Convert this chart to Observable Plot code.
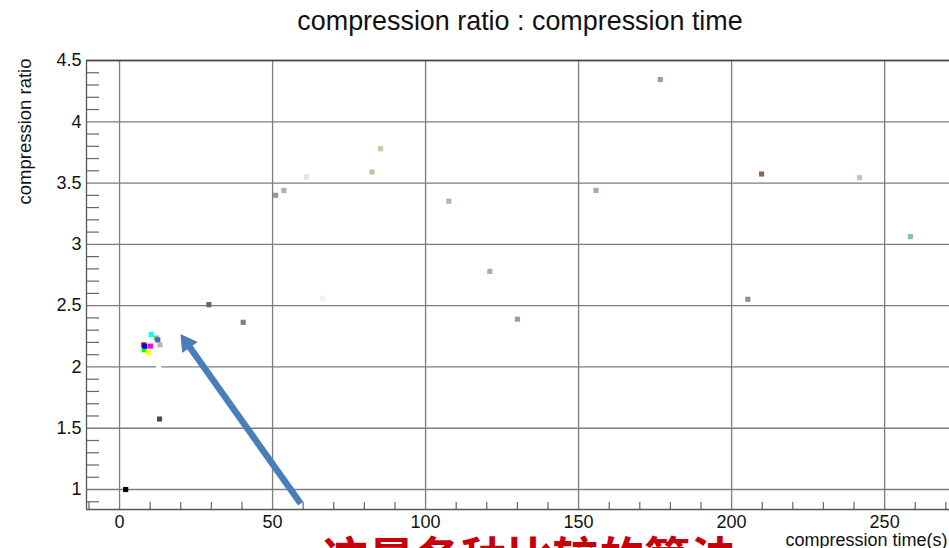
<!DOCTYPE html>
<html>
<head>
<meta charset="utf-8">
<script src="https://cdn.jsdelivr.net/npm/d3@7"></script>
<script src="https://cdn.jsdelivr.net/npm/@observablehq/plot@0.6"></script>
<style>
  html, body { margin: 0; padding: 0; background: #fff; overflow: hidden; }
</style>
</head>
<body>
<div id="chart"></div>
<script>
// ---- data ----
const times  = [2.0, 7.9, 8.05, 8.25, 9.4, 10.1, 10.35, 12.0, 12.5, 12.8, 13.2, 13.07, 29.2, 40.4, 51.0, 53.7, 61.1, 66.4, 82.5, 85.3, 107.6, 121.0, 130.0, 155.7, 176.7, 205.3, 209.8, 241.8, 258.4];
const ratios = [1.00, 2.18, 2.14, 2.17, 2.12, 2.17, 2.266, 2.236, 2.22, 2.00, 2.18, 1.575, 2.508, 2.364, 3.40, 3.44, 3.55, 2.56, 3.59, 3.78, 3.352, 2.78, 2.39, 3.44, 4.344, 2.552, 3.574, 3.544, 3.063];
const colors = ["#000000", "#ff0000", "#00ff00", "#0000ff", "#ffff00", "#ff00ff", "#00ffff", "#59d454", "#5954d9", "#ffffff", "#c0b6ac", "#4c4c4c", "#666666", "#7f7f7f", "#999999", "#b2b2b2", "#e3e3e3", "#f2f2f2", "#c4c0a0", "#ccc6aa", "#bab5a3", "#b5ab9a", "#aa9a8a", "#b7a39b", "#ad998c", "#9b8e82", "#876656", "#afcec6", "#84c1a3"];

const xTicks = [0, 50, 100, 150, 200, 250];
const xTickLabels = ["0", "50", "100", "150", "200", "250"];
const yTicks = [1, 1.5, 2, 2.5, 3, 3.5, 4, 4.5];
const yTickLabels = ["1", "1.5", "2", "2.5", "3", "3.5", "4", "4.5"];

const titleText = "compression ratio : compression time";
const xLabel = "compression time(s)";
const yLabel = "compression ratio";
const noteText = "这是各种比较的算法";

// annotation arrow: tail and tip (data coordinates)
const arrowFrom = [59.2, 0.884];
const arrowTo = [19.9, 2.269];

// ---- layout ----
const W = 949, H = 548;
const mL = 86, mR = 0, mT = 60, mB = 39;
const xDomain = [-10.8, 271.2];
const yDomain = [0.837, 4.5];
const pxX = (xDomain[1] - xDomain[0]) / (W - mL - mR); // data units per px
const pxY = (yDomain[1] - yDomain[0]) / (H - mT - mB);

const points = times.map((t, i) => ({t, r: ratios[i], c: colors[i]}));

const xMinor = d3.range(-10, 271, 10).filter(v => v % 50 !== 0);
const yMinor = d3.range(9, 45, 1).map(v => v / 10).filter(v => Math.round(v * 10) % 5 !== 0);

// arrow geometry (screen direction)
const dxp = (arrowTo[0] - arrowFrom[0]) / pxX;
const dyp = -(arrowTo[1] - arrowFrom[1]) / pxY;
const L = Math.hypot(dxp, dyp);
const ux = dxp / L, uy = dyp / L;
const headSide = 19;
const headH = headSide * Math.sqrt(3) / 2;
const back = d => [arrowTo[0] - ux * d * pxX, arrowTo[1] + uy * d * pxY];
const headCenter = back(headH * 2 / 3);
const shaftEnd = back(headH - 2);
const headAngle = Math.atan2(ux, -uy) * 180 / Math.PI;
const headR = headSide * Math.sqrt(Math.sqrt(3) / 4 / Math.PI);

const font = "Liberation Sans, Arial, Helvetica, sans-serif";

const chart = Plot.plot({
  width: W,
  height: H,
  marginLeft: mL,
  marginRight: mR,
  marginTop: mT,
  marginBottom: mB,
  style: {fontFamily: font, background: "#fff", color: "#000"},
  x: {domain: xDomain, axis: null},
  y: {domain: yDomain, axis: null},
  marks: [
    // grid
    Plot.ruleX(xTicks, {x: d => d, stroke: "#7d7d7d", strokeWidth: 1.3}),
    Plot.ruleY(yTicks, {y: d => d, stroke: "#7d7d7d", strokeWidth: 1.3}),
    // minor ticks
    Plot.ruleY(yMinor, {y: d => d, x1: xDomain[0], x2: xDomain[0] + 13 * pxX, stroke: "#666", strokeWidth: 1.2}),
    Plot.ruleX(xMinor, {x: d => d, y1: yDomain[0], y2: yDomain[0] + 7 * pxY, stroke: "#666", strokeWidth: 1.2}),
    // frame lines
    Plot.ruleX([xDomain[0]], {x: d => d, stroke: "#555", strokeWidth: 1.3}),
    Plot.ruleY([yDomain[0]], {y: d => d, stroke: "#555", strokeWidth: 1.3}),
    Plot.ruleY([yDomain[1]], {y: d => d, stroke: "#444", strokeWidth: 1.5}),
    // points
    Plot.dot(points, {x: "t", y: "r", symbol: "square", r: 2.9, fill: d => d.c, stroke: null}),
    // tick labels
    Plot.text(xTicks, {x: d => d, text: (d, i) => xTickLabels[i], frameAnchor: "bottom", lineAnchor: "top", dy: 6, fontSize: 18, fill: "#111"}),
    Plot.text(yTicks, {y: d => d, text: (d, i) => yTickLabels[i], frameAnchor: "left", textAnchor: "end", lineAnchor: "middle", dx: -5, fontSize: 18, fill: "#111"}),
    // axis titles
    Plot.text([yLabel], {frameAnchor: "top-left", rotate: -90, textAnchor: "end", lineAnchor: "middle", dx: -61, dy: -2, fontSize: 18.5, fill: "#111"}),
    Plot.text([xLabel], {frameAnchor: "bottom-left", textAnchor: "start", lineAnchor: "middle", dx: 699, dy: 31, fontSize: 18, fill: "#111"}),
    // title
    Plot.text([titleText], {frameAnchor: "top", lineAnchor: "middle", dx: 2, dy: -39, fontSize: 26.9, fill: "#111"}),
    // annotation arrow
    Plot.link([0], {x1: arrowFrom[0], y1: arrowFrom[1], x2: shaftEnd[0], y2: shaftEnd[1], stroke: "#4a7ebb", strokeWidth: 6.5}),
    Plot.dot([0], {x: headCenter[0], y: headCenter[1], symbol: "triangle", r: headR, rotate: headAngle, fill: "#4a7ebb", stroke: null}),
    // red note (cut by the picture edge, as in the reference)
    Plot.text([noteText], {frameAnchor: "bottom-left", textAnchor: "start", lineAnchor: "top", dx: 236, dy: 33, fontSize: 46, fontWeight: "bold", fill: "#c8000a", fontFamily: "Noto Sans CJK SC"})
  ]
});
document.getElementById("chart").appendChild(chart);
</script>
</body>
</html>
